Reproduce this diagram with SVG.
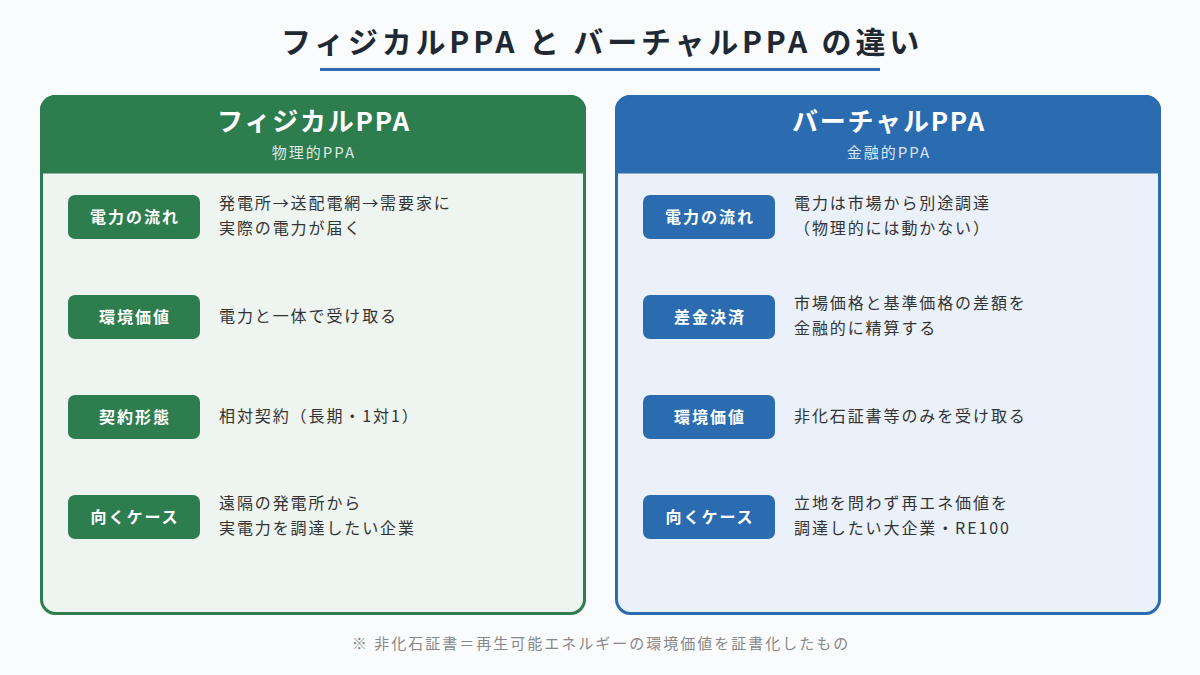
<svg xmlns="http://www.w3.org/2000/svg" width="1200" height="675" viewBox="0 0 1200 675">
<style>
text{font-family:"Noto Sans CJK JP","Noto Sans",sans-serif}
.title{font-size:30px;font-weight:700;fill:#1f2933;letter-spacing:3.8px}
.ph{font-size:26px;font-weight:700;fill:#fff;letter-spacing:1.8px}
.ps{font-size:15px;fill:#fff;fill-opacity:0.85;letter-spacing:2px}
.bt{font-size:16px;font-weight:700;fill:#fff;letter-spacing:2px}
.d{font-size:16px;fill:#333;letter-spacing:1.9px}
.foot{font-size:15px;fill:#888;letter-spacing:2px}
.gb{fill:#2e7d4f}
.bb{fill:#2b6cb0}
</style>
<rect width="1200" height="675" fill="#fafbfc"/>
<g id="title">
<text class="title" x="602" y="53" text-anchor="middle">フィジカルPPA と バーチャルPPA の違い</text>
<rect x="320" y="68" width="560" height="3" fill="#2b6cb0"/>
</g>
<g id="panel-physical">
<rect x="41.5" y="96.5" width="543" height="517" rx="14" fill="#eef4f0" stroke="#2e7d4f" stroke-width="3"/>
<path d="M41.5 172 V110.5 A14 14 0 0 1 55.5 96.5 H570.5 A14 14 0 0 1 584.5 110.5 V172 Z" fill="#2e7d4f" stroke="#2e7d4f" stroke-width="3"/>
<text class="ph" x="314" y="131" text-anchor="middle">フィジカルPPA</text>
<text class="ps" x="314" y="158" text-anchor="middle">物理的PPA</text>
</g>
<g id="panel-virtual">
<rect x="616.5" y="96.5" width="543" height="517" rx="14" fill="#eaf1fa" stroke="#2b6cb0" stroke-width="3"/>
<path d="M616.5 172 V110.5 A14 14 0 0 1 630.5 96.5 H1145.5 A14 14 0 0 1 1159.5 110.5 V172 Z" fill="#2b6cb0" stroke="#2b6cb0" stroke-width="3"/>
<text class="ph" x="889" y="131" text-anchor="middle">バーチャルPPA</text>
<text class="ps" x="889" y="158" text-anchor="middle">金融的PPA</text>
</g>
<g id="p-row1">
<rect class="gb" x="68" y="195" width="132" height="44" rx="7"/>
<text class="bt" x="135" y="223" text-anchor="middle">電力の流れ</text>
<text class="d" x="219" y="209">発電所→送配電網→需要家に</text>
<text class="d" x="219" y="234">実際の電力が届く</text>
</g>
<g id="p-row2">
<rect class="gb" x="68" y="295" width="132" height="44" rx="7"/>
<text class="bt" x="135" y="323" text-anchor="middle">環境価値</text>
<text class="d" x="219" y="322">電力と一体で受け取る</text>
</g>
<g id="p-row3">
<rect class="gb" x="68" y="395" width="132" height="44" rx="7"/>
<text class="bt" x="135" y="423" text-anchor="middle">契約形態</text>
<text class="d" x="219" y="422">相対契約（長期・1対1）</text>
</g>
<g id="p-row4">
<rect class="gb" x="68" y="495" width="132" height="44" rx="7"/>
<text class="bt" x="135" y="523" text-anchor="middle">向くケース</text>
<text class="d" x="219" y="509">遠隔の発電所から</text>
<text class="d" x="219" y="534">実電力を調達したい企業</text>
</g>
<g id="v-row1">
<rect class="bb" x="643" y="195" width="132" height="44" rx="7"/>
<text class="bt" x="710" y="223" text-anchor="middle">電力の流れ</text>
<text class="d" x="794" y="209">電力は市場から別途調達</text>
<text class="d" x="794" y="234">（物理的には動かない）</text>
</g>
<g id="v-row2">
<rect class="bb" x="643" y="295" width="132" height="44" rx="7"/>
<text class="bt" x="710" y="323" text-anchor="middle">差金決済</text>
<text class="d" x="794" y="309">市場価格と基準価格の差額を</text>
<text class="d" x="794" y="334">金融的に精算する</text>
</g>
<g id="v-row3">
<rect class="bb" x="643" y="395" width="132" height="44" rx="7"/>
<text class="bt" x="710" y="423" text-anchor="middle">環境価値</text>
<text class="d" x="794" y="422">非化石証書等のみを受け取る</text>
</g>
<g id="v-row4">
<rect class="bb" x="643" y="495" width="132" height="44" rx="7"/>
<text class="bt" x="710" y="523" text-anchor="middle">向くケース</text>
<text class="d" x="794" y="509">立地を問わず再エネ価値を</text>
<text class="d" x="794" y="534">調達したい大企業・RE100</text>
</g>
<g id="connectors"></g>
<g id="footnote">
<text class="foot" x="601" y="649" text-anchor="middle">※ 非化石証書＝再生可能エネルギーの環境価値を証書化したもの</text>
</g>
</svg>
